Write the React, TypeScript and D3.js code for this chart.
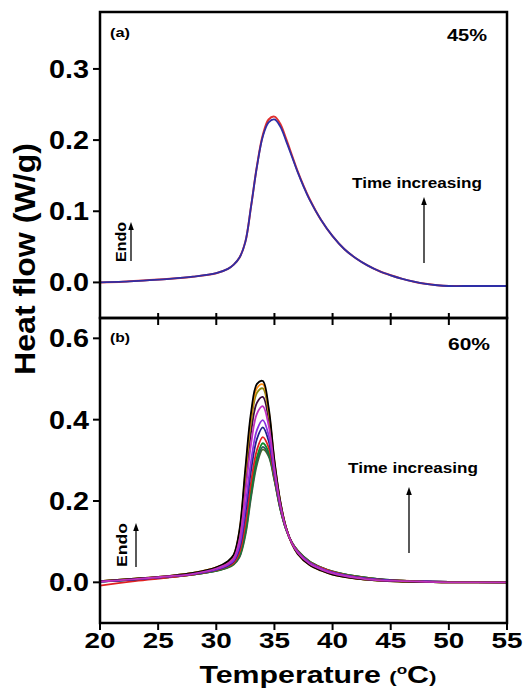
import React from 'react';
import * as d3 from 'd3';

// ---------- data ----------
const TEMP_A = [20, 22, 24, 26, 28, 30, 31, 31.5, 32, 32.5, 33, 33.5, 34, 34.5, 35, 35.5, 36, 36.5, 37, 37.5, 38, 39, 40, 41, 42, 43, 44, 45, 46, 47, 48, 49, 50, 52, 55];
const A_RED = [0.0, 0.001, 0.003, 0.005, 0.008, 0.013, 0.019, 0.025, 0.035, 0.057, 0.108, 0.164, 0.207, 0.229, 0.233, 0.223, 0.202, 0.179, 0.156, 0.136, 0.118, 0.088, 0.065, 0.047, 0.034, 0.024, 0.016, 0.010, 0.005, 0.001, -0.002, -0.004, -0.005, -0.005, -0.005];
const A_BLUE = [0.0, 0.001, 0.003, 0.005, 0.008, 0.013, 0.019, 0.025, 0.035, 0.057, 0.108, 0.163, 0.205, 0.225, 0.229, 0.219, 0.199, 0.177, 0.155, 0.135, 0.117, 0.088, 0.065, 0.047, 0.034, 0.024, 0.016, 0.010, 0.005, 0.001, -0.002, -0.004, -0.005, -0.005, -0.005];

const TEMP_B = [20, 23, 26, 28, 30, 31, 31.5, 32, 32.5, 33, 33.5, 34, 34.5, 35, 35.5, 36, 36.5, 37, 38, 39, 40, 42, 44, 46, 48, 50, 55];
const B_S1 = [0.003, 0.009, 0.016, 0.023, 0.037, 0.052, 0.068, 0.130, 0.280, 0.420, 0.488, 0.495, 0.430, 0.300, 0.200, 0.135, 0.095, 0.070, 0.043, 0.029, 0.019, 0.009, 0.004, 0.002, 0.001, 0.0, 0.0];
const B_S2 = [0.003, 0.009, 0.016, 0.023, 0.037, 0.051, 0.067, 0.127, 0.272, 0.410, 0.478, 0.487, 0.424, 0.297, 0.199, 0.135, 0.095, 0.070, 0.043, 0.029, 0.019, 0.009, 0.004, 0.002, 0.001, 0.0, 0.0];
const B_S3 = [0.003, 0.009, 0.016, 0.023, 0.036, 0.050, 0.065, 0.122, 0.262, 0.397, 0.466, 0.477, 0.417, 0.295, 0.198, 0.134, 0.095, 0.071, 0.044, 0.030, 0.020, 0.010, 0.004, 0.002, 0.001, 0.0, 0.0];
const B_S4 = [0.003, 0.008, 0.015, 0.022, 0.035, 0.048, 0.063, 0.114, 0.242, 0.372, 0.442, 0.456, 0.402, 0.289, 0.195, 0.134, 0.096, 0.072, 0.045, 0.031, 0.021, 0.010, 0.005, 0.002, 0.001, 0.0, 0.0];
const B_S5 = [0.002, 0.008, 0.015, 0.021, 0.034, 0.046, 0.059, 0.105, 0.219, 0.342, 0.415, 0.433, 0.386, 0.282, 0.193, 0.133, 0.096, 0.073, 0.046, 0.032, 0.022, 0.011, 0.005, 0.003, 0.001, 0.0, 0.0];
const B_S6 = [0.002, 0.008, 0.014, 0.021, 0.032, 0.043, 0.054, 0.091, 0.186, 0.300, 0.375, 0.399, 0.362, 0.271, 0.189, 0.132, 0.097, 0.075, 0.048, 0.034, 0.024, 0.012, 0.006, 0.003, 0.002, 0.001, 0.0];
const B_S7 = [0.002, 0.007, 0.014, 0.020, 0.031, 0.041, 0.052, 0.084, 0.168, 0.277, 0.353, 0.381, 0.348, 0.266, 0.186, 0.132, 0.097, 0.075, 0.049, 0.034, 0.024, 0.013, 0.007, 0.003, 0.002, 0.001, 0.0];
const B_S8 = [-0.008, 0.003, 0.012, 0.019, 0.030, 0.039, 0.048, 0.074, 0.145, 0.248, 0.326, 0.357, 0.332, 0.259, 0.184, 0.131, 0.098, 0.077, 0.050, 0.036, 0.026, 0.014, 0.007, 0.004, 0.002, 0.001, 0.0];
const B_S9 = [0.002, 0.007, 0.013, 0.019, 0.029, 0.037, 0.046, 0.068, 0.130, 0.229, 0.308, 0.342, 0.321, 0.255, 0.182, 0.130, 0.098, 0.078, 0.051, 0.036, 0.026, 0.015, 0.008, 0.004, 0.002, 0.001, 0.0];
const B_S10 = [0.002, 0.007, 0.013, 0.019, 0.028, 0.037, 0.045, 0.064, 0.121, 0.217, 0.297, 0.333, 0.314, 0.252, 0.181, 0.130, 0.098, 0.078, 0.052, 0.037, 0.027, 0.015, 0.008, 0.004, 0.002, 0.001, 0.0];
const B_S11 = [0.002, 0.007, 0.013, 0.019, 0.028, 0.036, 0.044, 0.062, 0.115, 0.210, 0.290, 0.327, 0.310, 0.250, 0.180, 0.130, 0.098, 0.078, 0.052, 0.037, 0.027, 0.015, 0.008, 0.004, 0.002, 0.001, 0.0];

const B_SERIES = [B_S11, B_S10, B_S9, B_S8, B_S7, B_S6, B_S4, B_S3, B_S2, B_S1, B_S5];
const B_COLORS = ['#4a6a2a', '#2a5a5a', '#0a8a2a', '#e02020', '#20208a', '#8a30e0', '#3a0a3a', '#8a8a10', '#ff8c10', '#000000', '#c030c0'];

const X_TICKS = [20, 25, 30, 35, 40, 45, 50, 55];
const YA_TICKS = [0.0, 0.1, 0.2, 0.3];
const YB_TICKS = [0.0, 0.2, 0.4, 0.6];

// ---------- layout ----------
const L = 100, R = 507, TOP = 12, MID = 318, BOT = 623;
const FONT = '"Liberation Sans", Arial, sans-serif';

export default function App() {
  const x = d3.scaleLinear().domain([20, 55]).range([L, R]);
  const yA = d3.scaleLinear().domain([-0.05, 0.38]).range([MID, TOP]);
  const yB = d3.scaleLinear().domain([-0.1, 0.65]).range([BOT, MID]);

  const lineA = (vals: number[]) =>
    d3.line<number>().x((_, i) => x(TEMP_A[i])).y((d) => yA(d)).curve(d3.curveCatmullRom.alpha(0.5))(vals) || '';
  const lineB = (vals: number[]) =>
    d3.line<number>().x((_, i) => x(TEMP_B[i])).y((d) => yB(d)).curve(d3.curveCatmullRom.alpha(0.5))(vals) || '';

  const arrow = (ax: number, y1: number, y2: number, key: string) => (
    <g key={key}>
      <line x1={ax} x2={ax} y1={y1} y2={y2 + 6} stroke="#000" strokeWidth={1.3} />
      <polygon points={`${ax - 2.8},${y2 + 8} ${ax + 2.8},${y2 + 8} ${ax},${y2}`} fill="#000" />
    </g>
  );

  return (
    <svg width={532} height={695} style={{ position: 'absolute', left: 0, top: 0, background: '#fff' }} fontFamily={FONT} fontWeight="bold">
      <defs>
        <clipPath id="clipA"><rect x={L} y={TOP} width={R - L} height={MID - TOP} /></clipPath>
        <clipPath id="clipB"><rect x={L} y={MID} width={R - L} height={BOT - MID} /></clipPath>
      </defs>
      <rect x={0} y={0} width={532} height={695} fill="#fff" />

      {/* curves panel a */}
      <g clipPath="url(#clipA)" fill="none">
        <path d={lineA(A_RED)} stroke="#e03030" strokeWidth={2} />
        <path d={lineA(A_BLUE)} stroke="#2e2ea6" strokeWidth={1.8} />
      </g>

      {/* curves panel b */}
      <g clipPath="url(#clipB)" fill="none">
        {B_SERIES.map((s, i) => (
          <path key={i} d={lineB(s)} stroke={B_COLORS[i]} strokeWidth={1.8} />
        ))}
      </g>

      {/* frames */}
      <rect x={L} y={TOP} width={R - L} height={MID - TOP} fill="none" stroke="#000" strokeWidth={2.5} />
      <rect x={L} y={MID} width={R - L} height={BOT - MID} fill="none" stroke="#000" strokeWidth={2.5} />

      {/* x ticks */}
      {X_TICKS.map((t) => (
        <g key={'xt' + t}>
          <line x1={x(t)} x2={x(t)} y1={BOT} y2={BOT + 7} stroke="#000" strokeWidth={2} />
          <line x1={x(t)} x2={x(t)} y1={MID - 5} y2={MID + 7} stroke="#000" strokeWidth={2} />
          <text x={x(t)} y={648} textAnchor="middle" fontSize={22} textLength={31} lengthAdjust="spacingAndGlyphs">{t}</text>
        </g>
      ))}

      {/* y ticks */}
      {YA_TICKS.map((t) => (
        <g key={'ya' + t}>
          <line x1={L - 7} x2={L} y1={yA(t)} y2={yA(t)} stroke="#000" strokeWidth={2} />
          <text x={89} y={yA(t)} dy="0.36em" textAnchor="end" fontSize={25} textLength={40} lengthAdjust="spacingAndGlyphs">{d3.format('.1f')(t)}</text>
        </g>
      ))}
      {YB_TICKS.map((t) => (
        <g key={'yb' + t}>
          <line x1={L - 7} x2={L} y1={yB(t)} y2={yB(t)} stroke="#000" strokeWidth={2} />
          <text x={89} y={yB(t)} dy="0.36em" textAnchor="end" fontSize={25} textLength={40} lengthAdjust="spacingAndGlyphs">{d3.format('.1f')(t)}</text>
        </g>
      ))}

      {/* axis labels */}
      <text transform="translate(35,259) rotate(-90)" textAnchor="middle" fontSize={29} textLength={232} lengthAdjust="spacingAndGlyphs">Heat flow (W/g)</text>
      <text x={318} y={683} textAnchor="middle" fontSize={23} textLength={237} lengthAdjust="spacingAndGlyphs">
        Temperature <tspan fontSize={17}>(</tspan><tspan fontSize={13} dy={-9}>o</tspan><tspan dy={9}>C</tspan><tspan fontSize={17}>)</tspan>
      </text>

      {/* panel a annotations */}
      <text x={110} y={37} fontSize={13} textLength={20} lengthAdjust="spacingAndGlyphs">(a)</text>
      <text x={487} y={41} textAnchor="end" fontSize={17} textLength={40} lengthAdjust="spacingAndGlyphs">45%</text>
      <text x={352} y={188} fontSize={14} textLength={130} lengthAdjust="spacingAndGlyphs">Time increasing</text>
      {arrow(424, 263, 197, 'arA')}
      <text transform="translate(126,242) rotate(-90)" textAnchor="middle" fontSize={14} textLength={40} lengthAdjust="spacingAndGlyphs">Endo</text>
      {arrow(131, 261, 222, 'arEA')}

      {/* panel b annotations */}
      <text x={110} y={342} fontSize={13} textLength={20} lengthAdjust="spacingAndGlyphs">(b)</text>
      <text x={490} y={350} textAnchor="end" fontSize={17} textLength={42} lengthAdjust="spacingAndGlyphs">60%</text>
      <text x={348} y={473} fontSize={14} textLength={130} lengthAdjust="spacingAndGlyphs">Time increasing</text>
      {arrow(409, 553, 487, 'arB')}
      <text transform="translate(127,545) rotate(-90)" textAnchor="middle" fontSize={14} textLength={44} lengthAdjust="spacingAndGlyphs">Endo</text>
      {arrow(136, 567, 523, 'arEB')}
    </svg>
  );
}
